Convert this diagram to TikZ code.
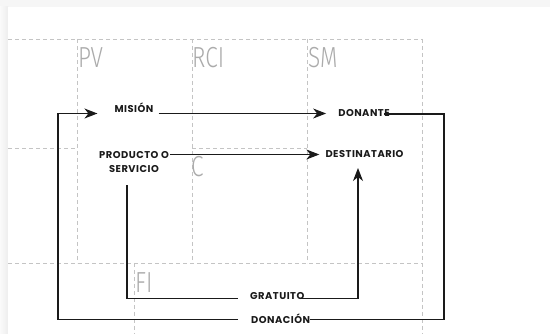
\documentclass[tikz,border=0pt]{standalone}
\usepackage{fontspec}
\usepackage{graphicx}
\usetikzlibrary{arrows.meta,calc}
\newfontfamily\nodefont{Poppins}[LetterSpace=5]
\IfFontExistsTF{Fira Sans Light}{\newfontfamily\lightfont{Fira Sans Light}}{\newfontfamily\lightfont{Fira Sans}}
\definecolor{gridc}{HTML}{C4C4C4}
\definecolor{labc}{HTML}{ABABAB}
\definecolor{ink}{HTML}{1A1A1A}
\begin{document}
\begin{tikzpicture}[x=1pt,y=-1pt,
  grid/.style={draw=gridc,line width=0.8pt,dash pattern=on 4pt off 3pt},
  zone/.style={anchor=base west,inner sep=0pt,text=labc,font=\lightfont\fontsize{29}{29}\selectfont},
  word/.style={inner sep=0pt,text=ink,font=\nodefont\bfseries\fontsize{9.9}{13.4}\selectfont},
  conn/.style={draw=ink,line width=1.1pt},
  tip/.style={-{Stealth[length=13pt,width=10pt,inset=4pt]}}]
\useasboundingbox (0,0) rectangle (550,334);
\fill[gray!7] (0,0) rectangle (550,334);
\shade[left color=gray!4,right color=gray!14] (0,7) rectangle (8,334);
\fill[white] (8,7) rectangle (550,334);
% grid
\draw[grid] (8,39) -- (422,39);
\draw[grid] (8,148) -- (77,148);
\draw[grid] (192,148) -- (307,148);
\draw[grid] (8,263) -- (422,263);
\draw[grid] (77,39) -- (77,263);
\draw[grid] (192,39) -- (192,263);
\draw[grid] (307,39) -- (307,263);
\draw[grid] (422,39) -- (422,334);
\draw[grid] (134,263) -- (134,334);
% zone labels
\node[zone] (pv) at (78,68) {\scalebox{0.78}[1]{PV}};
\node[zone] (rci) at (192,68) {\scalebox{0.78}[1]{RCI}};
\node[zone] (sm) at (308,68) {\scalebox{0.78}[1]{SM}};
\node[zone] (c) at (191,177) {\scalebox{0.78}[1]{C}};
\node[zone] (fi) at (135,293) {\scalebox{0.78}[1]{FI}};
% words
\node[word,anchor=base] (mision) at (134,112.3) {MISIÓN};
\node[word,anchor=base] (donante) at (364,117) {DONANTE};
\node[word,align=center] (producto) at (134,162) {PRODUCTO O\\SERVICIO};
\node[word,anchor=base] (destinatario) at (364.5,157.3) {DESTINATARIO};
\node[word,anchor=base west] (gratuito) at (250,300) {GRATUITO};
\node[word,anchor=base west] (donacion) at (251,323.3) {DONACIÓN};
% corners
\coordinate (r1) at (444,114);
\coordinate (r2) at (444,319.5);
\coordinate (l1) at (58,319.5);
\coordinate (l2) at (58,113.5);
\coordinate (g0) at (127,298.3);
\coordinate (g1) at (358,298.3);
% connectors
\draw[conn,tip] ([shift={(5,1.2)}]mision.base east) -- ([shift={(-12,-3.5)}]donante.base west);
\draw[conn] ([shift={(-6,-3)}]donante.base east) -- (r1) -- (r2) -- ([shift={(0,-3.8)}]donacion.base east);
\draw[conn,tip] ([shift={(-13,-3.8)}]donacion.base west) -- (l1) -- (l2) -- ([shift={(-17,1.2)}]mision.base west);
\draw[conn,tip] ([shift={(1,-7.5)}]producto.east) -- ([shift={(-6,-2.8)}]destinatario.base west);
\draw[conn] ($(producto.south)+(-7,13)$) -- (g0) -- ([shift={(-12,-1.7)}]gratuito.base west);
\draw[conn,tip] ([shift={(-5,-1.7)}]gratuito.base east) -- (g1) -- ($(destinatario.base -| g1)+(0,10.7)$);
\end{tikzpicture}
\end{document}
